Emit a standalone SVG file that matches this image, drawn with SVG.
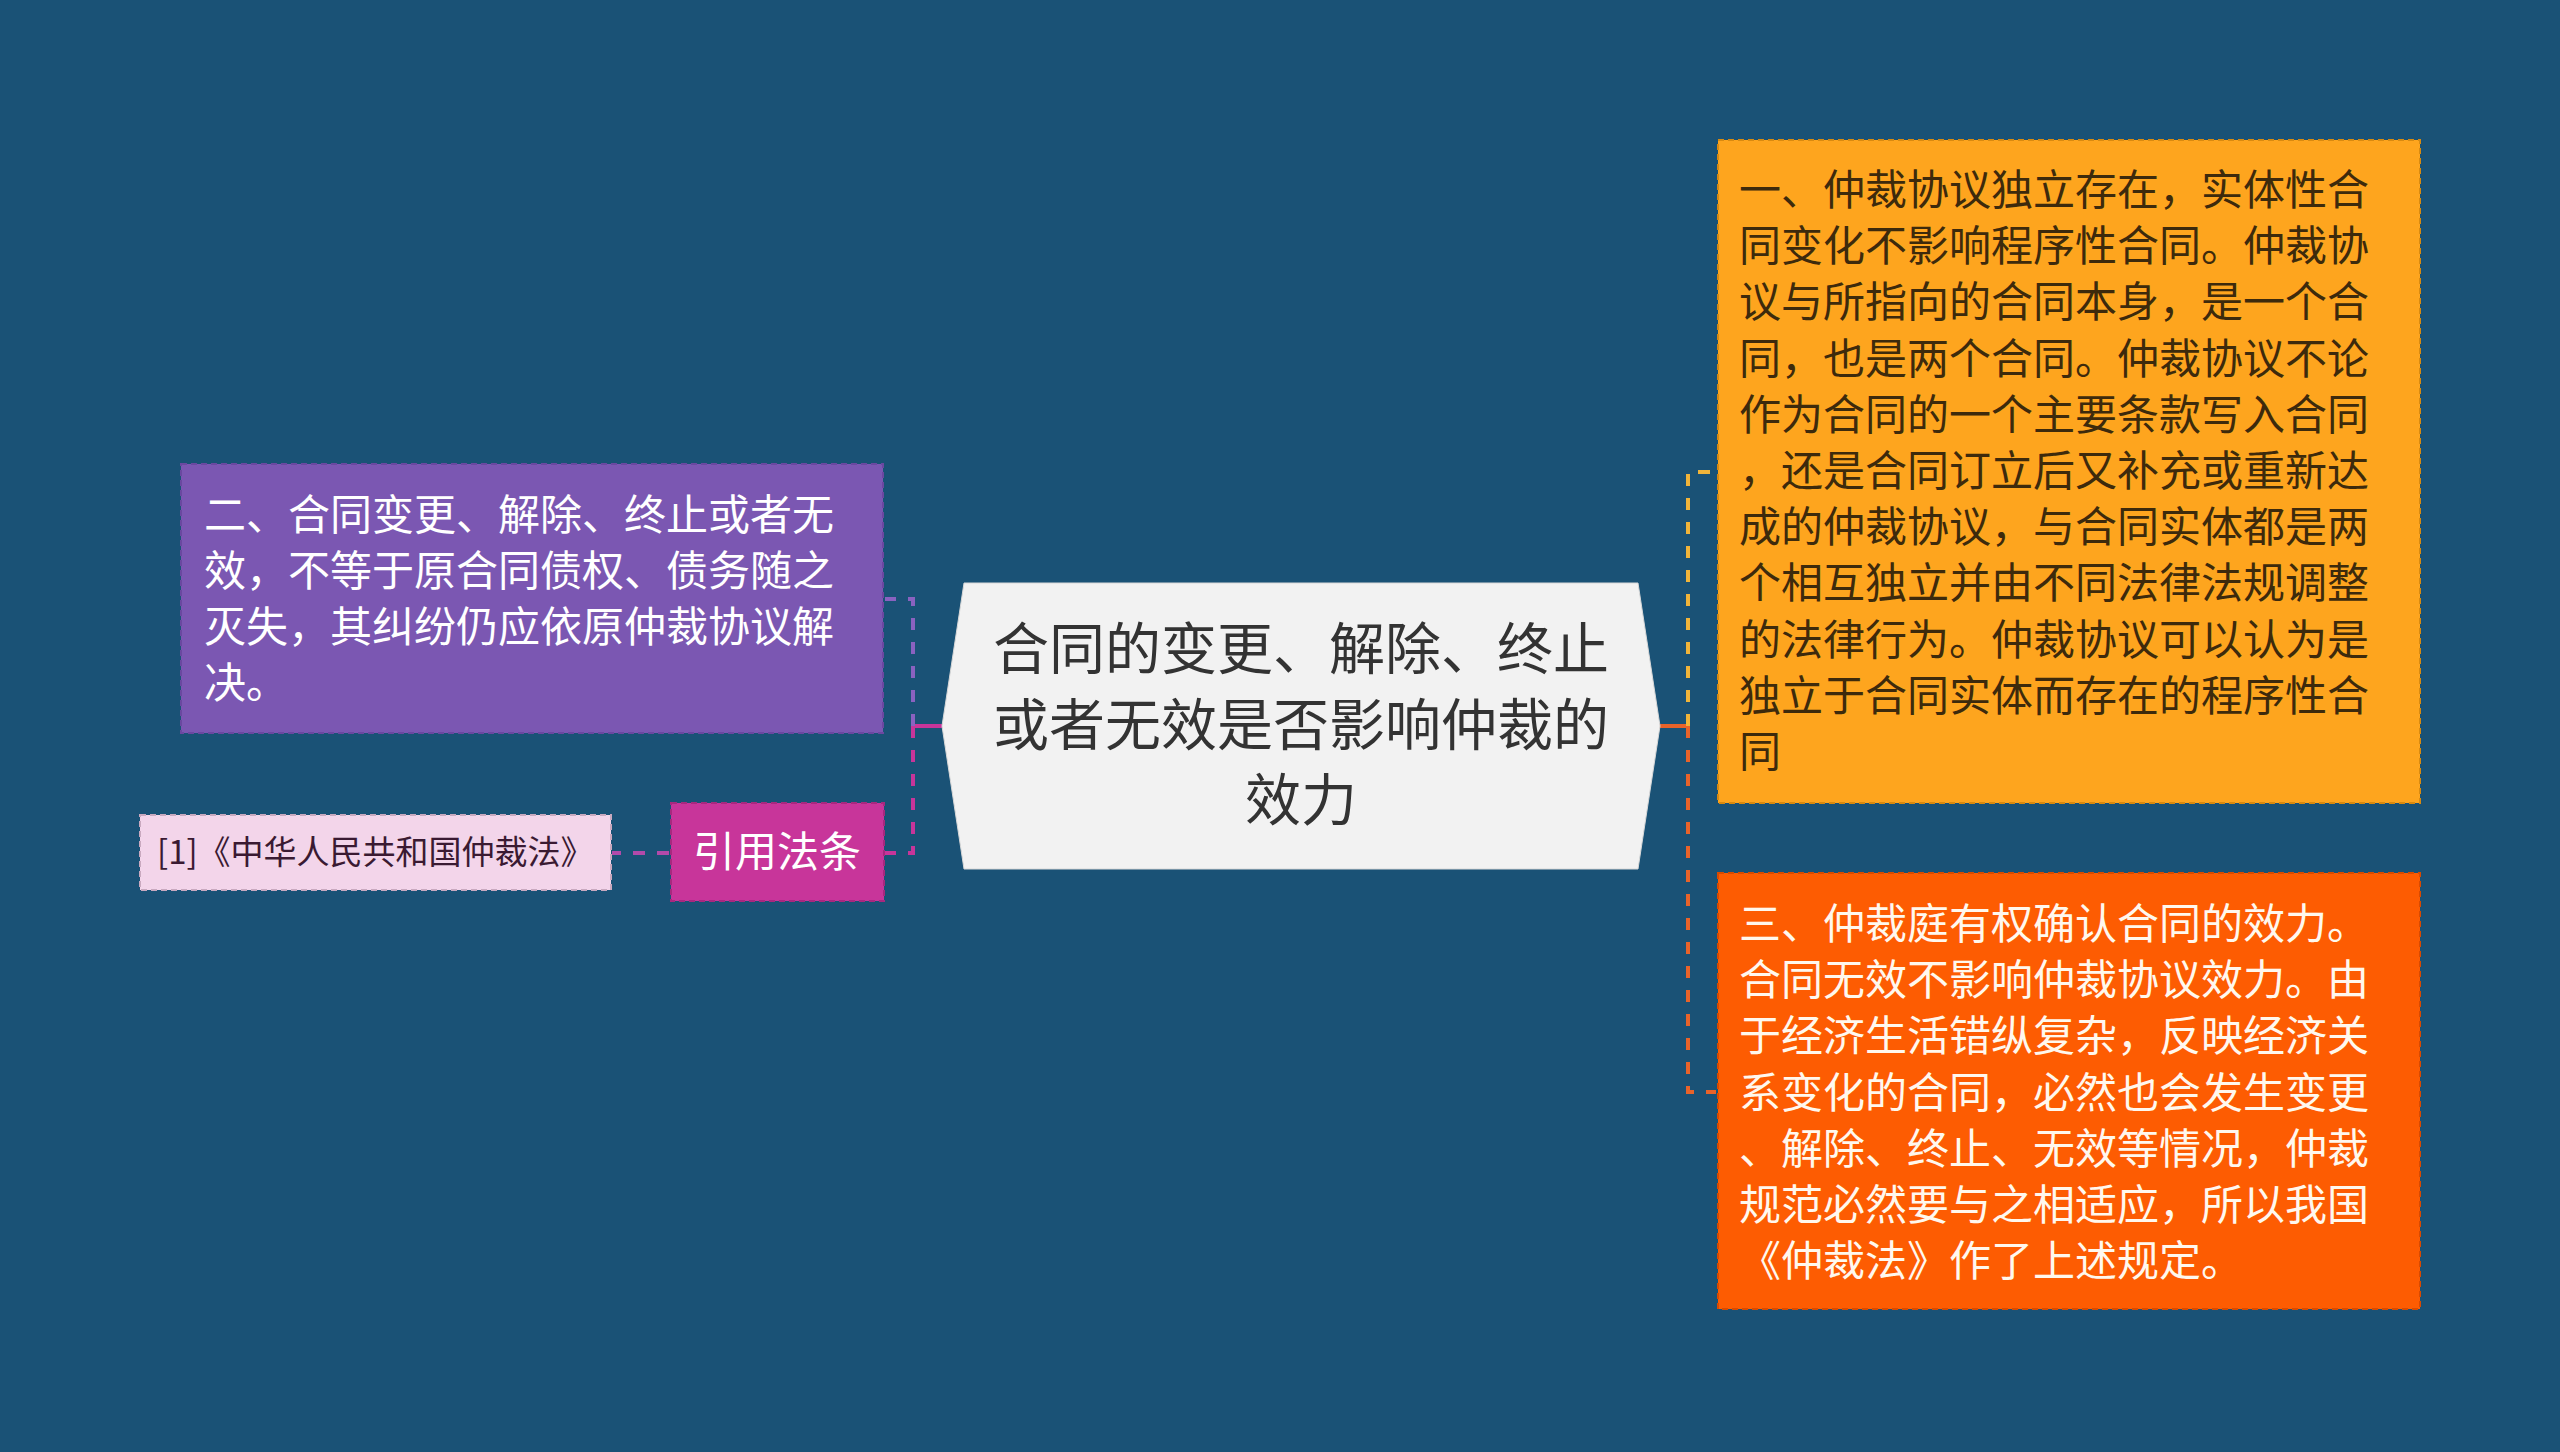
<svg xmlns="http://www.w3.org/2000/svg" width="2560" height="1452" viewBox="0 0 2560 1452">
<style>
text{font-family:"Noto Sans CJK SC","Noto Sans",sans-serif;}
.c{font-size:56px;fill:#333333;text-anchor:middle;}
.t42{font-size:42px;}
.w{fill:#ffffff;}
.dk{fill:#3d2a0c;}
.conn{fill:none;stroke-width:4;stroke-dasharray:12 12;}
.stub{fill:none;stroke-width:4;}
.bd{stroke-width:2;stroke-dasharray:6 4;}
</style>
<rect x="0" y="0" width="2560" height="1452" fill="#1a5276"/>
<g id="connectors">
<path class="stub" d="M913,726 H943" stroke="#c8359a"/>
<path class="conn" d="M913,726 V599 H885" stroke="#8a62c0"/>
<path class="conn" d="M913,726 V853 H885" stroke="#c8359a"/>
<path class="conn" d="M669,853 H612" stroke="#b24aaa"/>
<path class="stub" d="M1659,726 H1688" stroke="#e8632a"/>
<path class="conn" d="M1688,726 V472 H1716" stroke="#f0b43a"/>
<path class="conn" d="M1688,726 V1092 H1716" stroke="#e8632a"/>
</g>
<g id="center">
<polygon points="964,583 1638,583 1660,726 1638,869 964,869 942,726" fill="#f2f2f2" stroke="#d8d8d8" stroke-width="1"/>
<text class="c" x="1301" y="669">合同的变更、解除、终止</text>
<text class="c" x="1301" y="745">或者无效是否影响仲裁的</text>
<text class="c" x="1301" y="820">效力</text>
</g>
<g id="node-purple">
<rect x="181" y="464" width="702" height="269" fill="#7b57b2" stroke="#6a48a0" class="bd"/>
<text class="t42 w" x="204" y="530">二、合同变更、解除、终止或者无</text>
<text class="t42 w" x="204" y="586">效，不等于原合同债权、债务随之</text>
<text class="t42 w" x="204" y="642">灭失，其纠纷仍应依原仲裁协议解</text>
<text class="t42 w" x="204" y="698">决。</text>
</g>
<g id="node-cite">
<rect x="671" y="803" width="213" height="98" fill="#c8359a" stroke="#a8287f" class="bd"/>
<text class="t42 w" x="777" y="867" text-anchor="middle">引用法条</text>
</g>
<g id="node-law">
<rect x="140" y="815" width="471" height="75" fill="#f3d5ea" stroke="#c9a9bf" class="bd"/>
<text x="157" y="864" font-size="33" fill="#3a1a32">[1]《中华人民共和国仲裁法》</text>
</g>
<g id="node-yellow">
<rect x="1718" y="140" width="702" height="663" fill="#fea51e" stroke="#d98a10" class="bd"/>
<text class="t42 dk" x="1739" y="205">一、仲裁协议独立存在，实体性合</text>
<text class="t42 dk" x="1739" y="261.2">同变化不影响程序性合同。仲裁协</text>
<text class="t42 dk" x="1739" y="317.4">议与所指向的合同本身，是一个合</text>
<text class="t42 dk" x="1739" y="373.6">同，也是两个合同。仲裁协议不论</text>
<text class="t42 dk" x="1739" y="429.8">作为合同的一个主要条款写入合同</text>
<text class="t42 dk" x="1739" y="486">，还是合同订立后又补充或重新达</text>
<text class="t42 dk" x="1739" y="542.2">成的仲裁协议，与合同实体都是两</text>
<text class="t42 dk" x="1739" y="598.4">个相互独立并由不同法律法规调整</text>
<text class="t42 dk" x="1739" y="654.6">的法律行为。仲裁协议可以认为是</text>
<text class="t42 dk" x="1739" y="710.8">独立于合同实体而存在的程序性合</text>
<text class="t42 dk" x="1739" y="767">同</text>
</g>
<g id="node-orange">
<rect x="1718" y="873" width="702" height="436" fill="#fd5c02" stroke="#d94a00" class="bd"/>
<text class="t42" fill="#fff8ee" x="1739" y="939">三、仲裁庭有权确认合同的效力。</text>
<text class="t42" fill="#fff8ee" x="1739" y="995.2">合同无效不影响仲裁协议效力。由</text>
<text class="t42" fill="#fff8ee" x="1739" y="1051.4">于经济生活错纵复杂，反映经济关</text>
<text class="t42" fill="#fff8ee" x="1739" y="1107.6">系变化的合同，必然也会发生变更</text>
<text class="t42" fill="#fff8ee" x="1739" y="1163.8">、解除、终止、无效等情况，仲裁</text>
<text class="t42" fill="#fff8ee" x="1739" y="1220">规范必然要与之相适应，所以我国</text>
<text class="t42" fill="#fff8ee" x="1739" y="1276.2">《仲裁法》作了上述规定。</text>
</g>
</svg>
